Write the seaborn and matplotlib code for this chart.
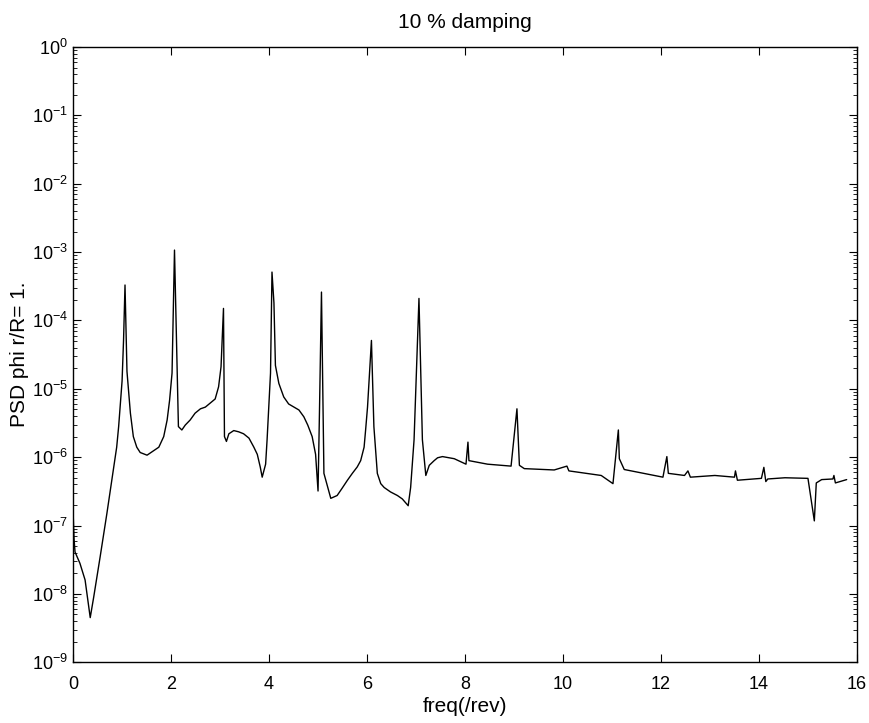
import pandas as pd
import matplotlib
matplotlib.use("Agg")
import matplotlib.pyplot as plt
import seaborn as sns

# PSD curve (freq in /rev, PSD values)
freq = [0.00, 0.02, 0.04, 0.14, 0.245, 0.35, 0.42, 0.55, 0.69, 0.79,
        0.89, 0.93, 0.96, 1.00, 1.03, 1.06, 1.10, 1.17, 1.23, 1.30,
        1.37, 1.51, 1.75, 1.85, 1.92, 1.97, 2.02, 2.07, 2.11, 2.15,
        2.22, 2.29, 2.39, 2.49, 2.60, 2.70, 2.80, 2.90, 2.97, 3.02,
        3.07, 3.09, 3.13, 3.18, 3.28, 3.38, 3.48, 3.59, 3.69, 3.76,
        3.82, 3.86, 3.93, 3.96, 4.03, 4.06, 4.10, 4.13, 4.20, 4.30,
        4.40, 4.51, 4.61, 4.71, 4.79, 4.88, 4.95, 5.00, 5.03, 5.07,
        5.12, 5.26, 5.39, 5.49, 5.60, 5.70, 5.80, 5.87, 5.94, 5.97,
        6.01, 6.09, 6.14, 6.21, 6.28, 6.35, 6.48, 6.62, 6.72, 6.84,
        6.89, 6.96, 7.06, 7.13, 7.20, 7.27, 7.37, 7.44, 7.54, 7.78,
        8.02, 8.06, 8.08, 8.46, 8.94, 9.06, 9.11, 9.21, 9.82, 10.08,
        10.12, 10.78, 11.02, 11.13, 11.15, 11.25, 12.04, 12.12, 12.15, 12.48,
        12.55, 12.60, 13.10, 13.50, 13.52, 13.56, 14.05, 14.10, 14.14, 14.18,
        14.53, 15.00, 15.13, 15.17, 15.28, 15.51, 15.53, 15.56, 15.79]
psd = [1.6e-7, 6.3e-8, 4.1e-8, 2.8e-8, 1.6e-8, 4.5e-9, 8.9e-9, 3.4e-8, 1.5e-7, 4.6e-7,
       1.4e-6, 2.8e-6, 5.4e-6, 1.3e-5, 5.1e-5, 3.3e-4, 1.8e-5, 4.4e-6, 2.0e-6, 1.4e-6,
       1.17e-6, 1.07e-6, 1.4e-6, 2.0e-6, 3.5e-6, 6.8e-6, 1.7e-5, 1.07e-3, 5.8e-5, 2.8e-6,
       2.5e-6, 2.95e-6, 3.5e-6, 4.4e-6, 5.1e-6, 5.4e-6, 6.2e-6, 7.1e-6, 1.07e-5, 2.1e-5,
       1.5e-4, 2.0e-6, 1.7e-6, 2.2e-6, 2.45e-6, 2.35e-6, 2.2e-6, 1.9e-6, 1.4e-6, 1.1e-6,
       7.2e-7, 5.1e-7, 7.9e-7, 1.8e-6, 1.7e-5, 5.1e-4, 1.8e-4, 2.2e-5, 1.2e-5, 7.6e-6,
       6.0e-6, 5.4e-6, 4.9e-6, 3.9e-6, 2.95e-6, 2.0e-6, 1.1e-6, 3.2e-7, 5.0e-6, 2.6e-4,
       5.8e-7, 2.5e-7, 2.75e-7, 3.5e-7, 4.6e-7, 5.8e-7, 7.2e-7, 8.9e-7, 1.4e-6, 2.45e-6,
       5.4e-6, 5.1e-5, 2.8e-6, 5.8e-7, 4.1e-7, 3.6e-7, 3.1e-7, 2.75e-7, 2.45e-7, 1.95e-7,
       3.6e-7, 1.8e-6, 2.1e-4, 1.8e-6, 5.4e-7, 7.6e-7, 8.9e-7, 9.8e-7, 1.02e-6, 9.5e-7,
       7.9e-7, 1.66e-6, 8.9e-7, 7.9e-7, 7.4e-7, 5.1e-6, 7.6e-7, 6.8e-7, 6.5e-7, 7.4e-7,
       6.3e-7, 5.4e-7, 4.1e-7, 2.5e-6, 9.5e-7, 6.6e-7, 5.1e-7, 1.02e-6, 5.8e-7, 5.4e-7,
       6.3e-7, 5.1e-7, 5.4e-7, 5.1e-7, 6.3e-7, 4.6e-7, 4.9e-7, 7.1e-7, 4.4e-7, 4.8e-7,
       5.0e-7, 4.9e-7, 1.17e-7, 4.2e-7, 4.7e-7, 4.8e-7, 5.4e-7, 4.2e-7, 4.7e-7]

df = pd.DataFrame({"freq": freq, "psd": psd})

sns.set_style("ticks")
plt.rcParams["font.family"] = ["Liberation Sans", "DejaVu Sans"]
plt.rcParams["text.color"] = "black"
plt.rcParams["axes.labelcolor"] = "black"

fig = plt.figure(figsize=(8.7, 7.23), dpi=100)
ax = fig.add_axes([0.084, 0.084, 0.901, 0.851])

sns.lineplot(data=df, x="freq", y="psd", ax=ax, color="black",
             linewidth=1.0, sort=False, estimator=None)

ax.set_yscale("log")
ax.set_xlim(0, 16)
ax.set_ylim(1e-9, 1e0)
ax.set_xticks(range(0, 17, 2))
ax.set_yticks([10.0 ** k for k in range(-9, 1)])

ax.tick_params(which="both", direction="in", top=True, right=True,
               labelsize=13, color="black", labelcolor="black")
ax.tick_params(which="major", length=6)
ax.tick_params(which="minor", length=3)
ax.tick_params(axis="x", pad=10)
for s in ax.spines.values():
    s.set_color("black")
    s.set_linewidth(1.0)

ax.set_title("10 % damping", fontsize=15, pad=14)
ax.set_xlabel("freq(/rev)", fontsize=15, labelpad=3)
ax.set_ylabel("PSD phi r/R= 1.", fontsize=15, labelpad=2)

fig.savefig("out.png", dpi=100)
